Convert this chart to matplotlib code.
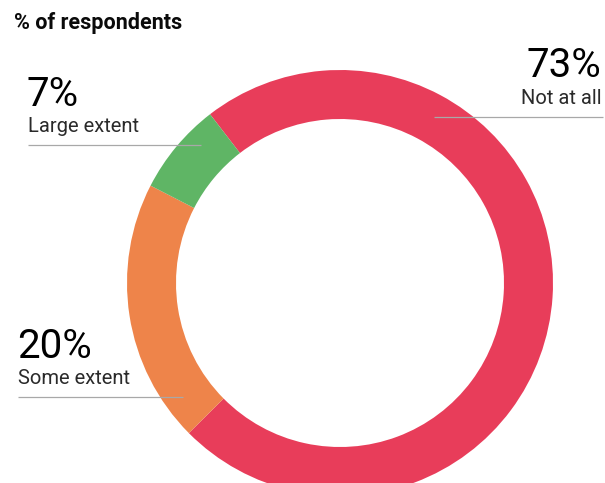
import matplotlib
matplotlib.use("Agg")
import matplotlib.pyplot as plt

# Survey shares
categories = ["Not at all", "Some extent", "Large extent"]
values = [73, 20, 7]
colors = ["#E83D5A", "#EE844A", "#5FB565"]

W, H = 605, 483
fig = plt.figure(figsize=(W / 100, H / 100), dpi=100)
ax = fig.add_axes([0, 0, 1, 1])

# Ring centred in pixel space (y measured upward)
cx, cy, r_out, ring_w = 340, H - 283, 213, 49
ax.pie(values, colors=colors, startangle=127.6, counterclock=False,
       center=(cx, cy), radius=r_out, frame=True,
       wedgeprops=dict(width=ring_w, linewidth=0))
ax.set_xlim(0, W)
ax.set_ylim(0, H)
ax.set_aspect("equal")
ax.axis("off")

font = "Roboto"
big = dict(fontsize=29, family=font, fontweight="normal", color="#000000", va="baseline")
small = dict(fontsize=14.5, family=font, fontweight="normal", color="#2A2A2A", va="baseline")
line_kw = dict(color="#A8A8A8", lw=0.9, zorder=5, solid_capstyle="butt")

def y(px):
    return H - px

ax.text(14, y(29), "% of respondents", fontsize=15.5, fontweight="bold",
        family=font, color="#0A0A0A", va="baseline")

# Large extent (upper left)
ax.text(27, y(106), f"{values[2]}%", ha="left", **big)
ax.text(28, y(132), categories[2], ha="left", **small)
ax.plot([28, 201], [y(145), y(145)], **line_kw)

# Not at all (upper right)
ax.text(601, y(77), f"{values[0]}%", ha="right", **big)
ax.text(602, y(104), categories[0], ha="right", **small)
ax.plot([434, 603], [y(117), y(117)], **line_kw)

# Some extent (lower left)
ax.text(17, y(358), f"{values[1]}%", ha="left", **big)
ax.text(18, y(384), categories[1], ha="left", **small)
ax.plot([18, 183], [y(397), y(397)], **line_kw)

fig.savefig("out.png", dpi=100)
